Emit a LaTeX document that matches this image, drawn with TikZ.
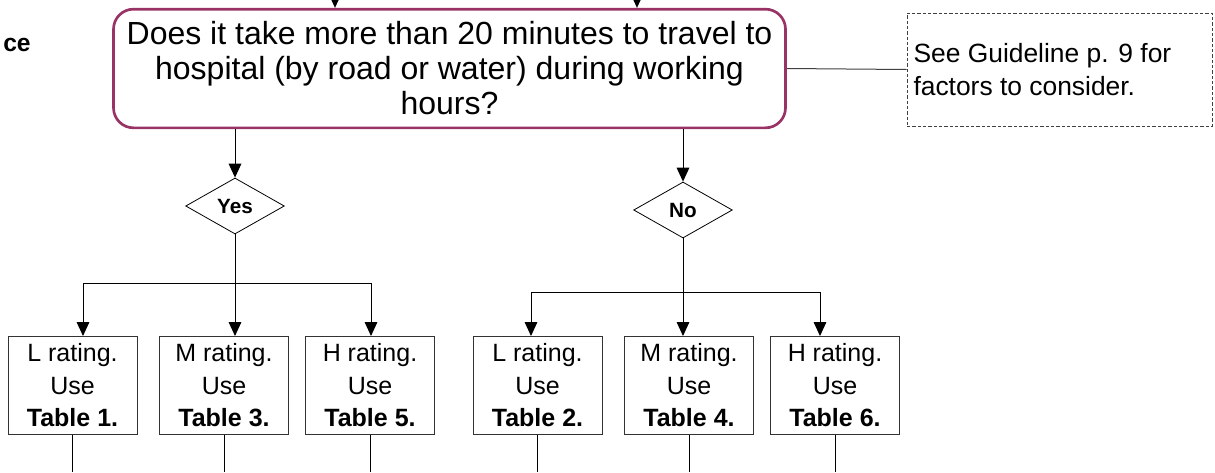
\documentclass[tikz,border=0pt]{standalone}
\usepackage{fontspec}
\setmainfont{Liberation Sans}
\usetikzlibrary{shapes.geometric,arrows.meta,positioning}
\definecolor{framepurple}{RGB}{153,51,102}

\begin{document}
\begin{tikzpicture}[
    x=0.75pt, y=-0.75pt,
    >={Triangle[length=10.5pt,width=9.5pt]},
    query/.style={rectangle, rounded corners=15pt, draw=framepurple, line width=2pt, minimum width=504pt, minimum height=89pt, align=center, font=\fontsize{24}{26.25}\selectfont},
    hint/.style={rectangle, draw=black!75, dash pattern=on 2.5pt off 1.5pt, minimum width=228.75pt, minimum height=84.75pt, text width=219pt, inner sep=4.5pt, align=flush left, font=\fontsize{19.8}{24.5}\selectfont},
    decision/.style={diamond, draw, line width=0.6pt, minimum width=74pt, minimum height=42pt, inner sep=0pt, font=\fontsize{15.5}{18}\selectfont\bfseries},
    rating/.style={rectangle, draw=black!80, line width=0.75pt, minimum width=96.75pt, minimum height=73.5pt, align=center, font=\fontsize{18.75}{24.4}\selectfont},
    link/.style={line width=0.75pt},
    flow/.style={->, line width=0.75pt}
]
\useasboundingbox (0,0) rectangle (1215,472);

% Question and side note
\node[query] (question) at (449.5,68.5) {Does it take more than 20 minutes to travel to\\hospital (by road or water) during working\\hours?};
\node[hint] (note) at (1059.5,69.5) {See Guideline p. 9 for\\factors to consider.};
\node[font=\fontsize{18.5}{20}\selectfont\bfseries] (cut) at (17,45) {ce};

% Incoming arrows
\coordinate (topa) at (335,0);
\coordinate (topb) at (637,0);
\coordinate (bottom) at (0,472);
\draw[flow] (topa) -- (topa |- question.north);
\draw[flow] (topb) -- (topb |- question.north);
\draw[link, black!75] (question.east) -- (note.west);

% Decisions
\node[decision] (yes) at (235,206) {Yes};
\node[decision] (no) at (683,210) {No};
\draw[flow] (yes |- question.south) -- (yes.north);
\draw[flow] (no |- question.south) -- (no.north);

% Rating boxes
\node[rating] (lowa) at (72.5,385.5) {L rating.\\Use\\\textbf{Table 1.}};
\node[rating] (meda) at (224,385.5) {M rating.\\Use\\\textbf{Table 3.}};
\node[rating] (higha) at (370,385.5) {H rating.\\Use\\\textbf{Table 5.}};
\node[rating] (lowb) at (537.5,385.5) {L rating.\\Use\\\textbf{Table 2.}};
\node[rating] (medb) at (689,385.5) {M rating.\\Use\\\textbf{Table 4.}};
\node[rating] (highb) at (835,385.5) {H rating.\\Use\\\textbf{Table 6.}};

% Yes branch
\coordinate (yesl) at (83,283);
\coordinate (yesr) at (371,283);
\draw[link] (yesl) -- (yesr);
\draw[flow] (yes.south) -- (yes.south |- meda.north);
\draw[flow] (yesl) -- (yesl |- lowa.north);
\draw[flow] (yesr) -- (yesr |- higha.north);

% No branch
\coordinate (nol) at (531,292);
\coordinate (nor) at (820,292);
\draw[link] (nol) -- (nor);
\draw[flow] (no.south) -- (no.south |- medb.north);
\draw[flow] (nol) -- (nol |- lowb.north);
\draw[flow] (nor) -- (nor |- highb.north);

% Exits
\draw[link] (lowa.south) -- (lowa.south |- bottom);
\draw[link] (meda.south) -- (meda.south |- bottom);
\draw[link] (higha.south) -- (higha.south |- bottom);
\draw[link] (lowb.south) -- (lowb.south |- bottom);
\draw[link] (medb.south) -- (medb.south |- bottom);
\draw[link] (highb.south) -- (highb.south |- bottom);

\end{tikzpicture}
\end{document}
